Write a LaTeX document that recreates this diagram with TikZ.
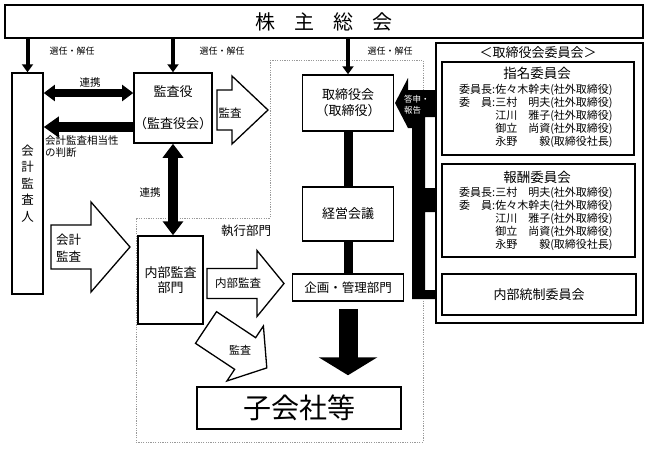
\documentclass[tikz,border=0pt]{standalone}
\usepackage{fontspec}
\setmainfont{Noto Sans CJK JP}
\usetikzlibrary{arrows.meta}
\newcommand\fsz[2]{\fontsize{#1}{#2}\selectfont}
\newcommand\lbl[1]{\makebox[3em][s]{#1}:}
\newcommand\nm[1]{\makebox[5em][s]{#1}}
\newcommand\harrow[7]{%
  \begin{scope}[shift={(#1,#2)},rotate=#3]
    \draw[hollow] (0,-#6) -- (#4,-#6) -- (#4,-#7) -- (#5,0) -- (#4,#7) -- (#4,#6) -- (0,#6) -- cycle;
  \end{scope}}
\begin{document}
\begin{tikzpicture}[x=1pt,y=-1pt,
  box/.style={draw, line width=1.5pt, inner sep=0pt, align=center},
  hollow/.style={draw, line width=1.3pt, fill=white, line join=miter},
  selarr/.style={line width=4pt, -{Triangle[width=11pt,length=8pt]}},
  dblarr/.style={line width=#1, {Triangle[width=2*#1,length=1.4*#1]}-{Triangle[width=2*#1,length=1.4*#1]}},
  region/.style={draw=gray!80, line width=0.8pt, dash pattern=on 1.2pt off 1.2pt},
  txt/.style={inner sep=0pt, align=center},
  mline/.style={anchor=west, inner sep=0pt, font=\fsz{11}{13}}
]
\fill[white] (0,0) rectangle (649,451);
\useasboundingbox (0,0) rectangle (649,451);

% dashed region (execution dept.)
\draw[region] (270,60) -- (423,60) -- (423,442) -- (136,442) -- (136,218) -- (270,218) -- cycle;

% main boxes
\node[box, minimum width=638pt, minimum height=33pt, font=\fsz{20}{24}] (top) at (324,21.5) {株\hspace{19pt}主\hspace{19pt}総\hspace{19pt}会};
\node[box, minimum width=31pt, minimum height=221pt, font=\fsz{12.5}{16.5}] (kaikei) at (27.5,183.5) {会\\計\\監\\査\\人};
\node[box, minimum width=78pt, minimum height=70pt, font=\fsz{13}{16}] (kansa) at (173,108) {監査役\\[16pt]（監査役会）};
\node[box, minimum width=91pt, minimum height=56pt, font=\fsz{13}{16}] (tori) at (348,103) {取締役会\\（取締役）};
\node[box, minimum width=91pt, minimum height=54pt, font=\fsz{13}{16}] (keiei) at (348,214) {経営会議};
\node[box, minimum width=111pt, minimum height=27pt, font=\fsz{12.5}{15}] (kikaku) at (348,287.5) {企画・管理部門};
\node[box, minimum width=65pt, minimum height=88pt, font=\fsz{13}{15}] (naibu) at (170.5,280) {内部監査\\部門};
\node[box, minimum width=204pt, minimum height=42pt, font=\fsz{28}{32}] (kogaisha) at (299,408) {子会社等};

% committee boxes
\node[box, minimum width=207pt, minimum height=280pt] (iinkai) at (539.5,183) {};
\node[txt, font=\fsz{13}{16}] (iinkaiT) at (538,53) {＜取締役会委員会＞};
\node[box, minimum width=192pt, minimum height=93pt] (shimei) at (538,108.5) {};
\node[box, minimum width=193pt, minimum height=93pt] (housyu) at (538.5,210.5) {};
\node[box, minimum width=194pt, minimum height=41pt, font=\fsz{13}{16}] (naibutousei) at (539,294.5) {内部統制委員会};

\node[txt, font=\fsz{13.5}{16}] (shimeiT) at (537,73) {指名委員会};
\node[mline] (s1) at (459,90) {\lbl{委員長}\nm{佐々木幹夫}(社外取締役)};
\node[mline] (s2) at (459,103) {\lbl{委\hfill{}員}\nm{三村\hfill{}明夫}(社外取締役)};
\node[mline] (s3) at (459,116) {\hphantom{\lbl{委員長}}\nm{江川\hfill{}雅子}(社外取締役)};
\node[mline] (s4) at (459,129) {\hphantom{\lbl{委員長}}\nm{御立\hfill{}尚資}(社外取締役)};
\node[mline] (s5) at (459,142) {\hphantom{\lbl{委員長}}\nm{永野\hfill{}毅}(取締役社長)};

\node[txt, font=\fsz{13.5}{16}] (housyuT) at (537,177) {報酬委員会};
\node[mline] (h1) at (459,193) {\lbl{委員長}\nm{三村\hfill{}明夫}(社外取締役)};
\node[mline] (h2) at (459,206) {\lbl{委\hfill{}員}\nm{佐々木幹夫}(社外取締役)};
\node[mline] (h3) at (459,219) {\hphantom{\lbl{委員長}}\nm{江川\hfill{}雅子}(社外取締役)};
\node[mline] (h4) at (459,232) {\hphantom{\lbl{委員長}}\nm{御立\hfill{}尚資}(社外取締役)};
\node[mline] (h5) at (459,245) {\hphantom{\lbl{委員長}}\nm{永野\hfill{}毅}(取締役社長)};

% election arrows
\draw[selarr] (top.south -| kaikei.north) -- (kaikei.north);
\draw[selarr] (top.south -| kansa.north) -- (kansa.north);
\draw[selarr] (top.south -| tori.north) -- (tori.north);
\node[txt, font=\fsz{9}{11}] (sel1) at (72,51) {選任・解任};
\node[txt, font=\fsz{9}{11}] (sel2) at (222,51) {選任・解任};
\node[txt, font=\fsz{9}{11}] (sel3) at (390,51) {選任・解任};

% 連携 (horizontal)
\coordinate (r1) at (0,93);
\coordinate (r2) at (0,127);
\draw[dblarr=8pt] (kaikei.east |- r1) -- (kansa.west |- r1);
\node[txt, font=\fsz{10.5}{12}] (renkei1) at (90,83) {連携};
% 会計監査相当性の判断
\draw[line width=10pt, -{Triangle[width=20pt,length=15pt]}] (kansa.west |- r2) -- (kaikei.east |- r2);
\node[anchor=west, inner sep=0pt, align=left, font=\fsz{10.5}{11.5}] (hantei) at (45,146.5) {会計監査相当性\\の判断};

% 連携 (vertical)
\draw[dblarr=10pt] (kansa.south) -- (naibu.north -| kansa.south);
\node[txt, font=\fsz{10.5}{12}] (renkei2) at (150,193) {連携};

% chain
\draw[line width=9pt] (tori.south) -- (keiei.north);
\draw[line width=9pt] (keiei.south) -- (kikaku.north);
\draw[line width=19pt, -{Triangle[width=58pt,length=18pt]}] ([yshift=-7pt]kikaku.south) -- ([yshift=11pt]kogaisha.north -| kikaku.south);

% hollow arrows
\harrow{217}{110}{0}{15}{51}{20}{34}
\node[txt, font=\fsz{11.5}{13}] (kansaA) at (230,113) {監査};
\harrow{51}{247}{0}{40}{79}{22}{45}
\node[anchor=west, inner sep=0pt, align=left, font=\fsz{12.5}{17}] (kaikeiA) at (56,248.5) {会計\\監査};
\harrow{207}{283.5}{0}{50}{77}{15}{33}
\node[txt, font=\fsz{11.5}{13}] (naibuA) at (238,283.5) {内部監査};
\harrow{206}{327.5}{-33.6}{47}{73}{19}{33}
\node[txt, font=\fsz{11}{13}] (kansaB) at (240,350) {監査};

\node[txt, font=\fsz{12.5}{15}] (shikkou) at (246,231) {執行部門};

% report bar
\fill (395,103) -- (408,78) -- (408,90) -- (436,90) -- (436,117) -- (425,117) -- (425,188) -- (436,188) -- (436,212) -- (425,212) -- (425,290) -- (436,290) -- (436,299) -- (412,299) -- (412,128) -- (408,128) -- cycle;
\node[anchor=west, inner sep=0pt, align=left, text=white, font=\fsz{8.5}{11}] (toushin) at (404,104.5) {答申・\\報告};
\end{tikzpicture}
\end{document}
